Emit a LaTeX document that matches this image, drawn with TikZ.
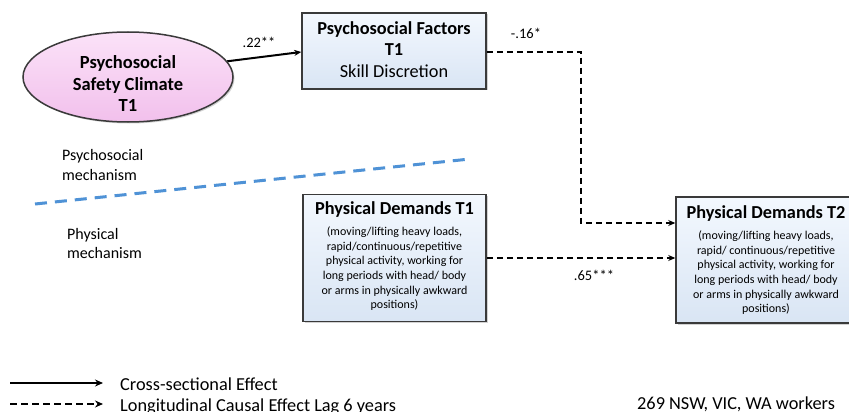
\documentclass[tikz,border=0pt]{standalone}
\usepackage{fontspec}
\setmainfont{Carlito}
\usetikzlibrary{shapes.geometric,shadows,arrows.meta}
\definecolor{bordc}{HTML}{3A3A3A}
\definecolor{boxtop}{HTML}{F3F8FE}
\definecolor{boxbot}{HTML}{D9E5F4}
\definecolor{pinktop}{HTML}{FBE2F8}
\definecolor{pinkbot}{HTML}{F2C0EC}
\definecolor{mechblue}{HTML}{4F92D6}
\tikzset{
  varbox/.style={draw=bordc, line width=1.5pt, top color=boxtop, bottom color=boxbot,
    drop shadow={shadow xshift=1.5pt, shadow yshift=-1.5pt, fill=gray!70}},
  latent/.style={ellipse, draw=bordc, line width=1.5pt, top color=pinktop, bottom color=pinkbot,
    drop shadow={shadow xshift=1.5pt, shadow yshift=-1.5pt, fill=gray!70},
    inner sep=0pt},
  boxtext/.style={inner sep=0pt, align=center, anchor=north},
  cross/.style={line width=2pt, -{Stealth[length=7pt,width=6pt]}},
  longit/.style={line width=2.4pt, dash pattern=on 6.5pt off 3.5pt, -{Stealth[length=7pt,width=6pt]}},
  lbl/.style={font=\fontsize{14.5}{16}\selectfont, inner sep=0pt},
  plain/.style={inner sep=0pt, align=left},
}
\begin{document}
\begin{tikzpicture}[x=1pt,y=-1pt]
\useasboundingbox (0,0) rectangle (849,412);
\clip (0,0) rectangle (849,412);
\fill[white] (0,0) rectangle (849,412);

% latent
\node[latent, minimum width=210pt, minimum height=90pt] (psc) at (128,77) {};
\node[inner sep=0pt, align=center, font=\fontsize{18.5}{21.5}\selectfont] (psct) at (128,84)
  {\bfseries Psychosocial\\\bfseries Safety Climate\\\bfseries T1};

% boxes
\node[varbox, minimum width=184pt, minimum height=76pt] (psf) at (394,51) {};
\node[boxtext, font=\fontsize{18.3}{21.5}\selectfont] (psft) at (394,21)
  {\bfseries Psychosocial Factors\\\bfseries T1\\Skill Discretion};

\node[varbox, minimum width=183pt, minimum height=127pt] (pd1) at (394.5,258) {};
\node[boxtext, font=\fontsize{12}{14.6}\selectfont] (pd1t) at (394.5,201)
  {{\fontsize{18.3}{22}\selectfont\bfseries Physical Demands T1}\\[7pt]
   (moving/lifting heavy loads,\\
   rapid/continuous/repetitive\\
   physical activity, working for\\
   long periods with head/ body\\
   or arms in physically awkward\\
   positions)};

\node[varbox, minimum width=184pt, minimum height=126pt] (pd2) at (768,260) {};
\node[boxtext, font=\fontsize{12}{14.6}\selectfont] (pd2t) at (766,205)
  {{\fontsize{18.3}{22}\selectfont\bfseries Physical Demands T2}\\[7pt]
   (moving/lifting heavy loads,\\
   rapid/ continuous/repetitive\\
   physical activity, working for\\
   long periods with head/ body\\
   or arms in physically awkward\\
   positions)};

% connectors
\draw[cross] (psc.9) -- (psf.west |- 0,52);
\node[lbl] (l22) at (259,42) {.22**};

\coordinate (bend1) at (581,52);
\coordinate (bend2) at (581,223);
\draw[longit] (psf.east |- 0,52) -- (bend1) -- (bend2) -- (pd2.west |- bend2);
\node[lbl] (l16) at (526,33) {-.16*};

\draw[longit] (pd1.east |- 0,258) -- (pd2.west |- 0,258);
\node[lbl] (l65) at (594,275) {.65***};

% mechanism divider
\coordinate (m1) at (35,204);
\coordinate (m2) at (470,159);
\draw[mechblue, line width=3pt, dash pattern=on 12pt off 8pt] (m1) -- (m2);
\node[plain, anchor=base west, font=\fontsize{16}{20}\selectfont] (psm) at (62,180) {Psychosocial\\mechanism};
\node[plain, anchor=base west, font=\fontsize{16}{19}\selectfont] (phm) at (67,258) {Physical\\mechanism};

% legend
\coordinate (l1a) at (10,383);
\coordinate (l1b) at (103,383);
\coordinate (l2a) at (10,404);
\coordinate (l2b) at (103,404);
\draw[line width=2pt, -{Stealth[length=8pt,width=7pt]}] (l1a) -- (l1b);
\draw[line width=2.4pt, dash pattern=on 7pt off 4pt, -{Stealth[length=8pt,width=7pt]}] (l2a) -- (l2b);
\node[plain, anchor=base west, font=\fontsize{18.3}{21}\selectfont] (lg1) at (120,390) {Cross-sectional Effect};
\node[plain, anchor=base west, font=\fontsize{18.3}{21}\selectfont] (lg2) at (120,411) {Longitudinal Causal Effect Lag 6 years};
\node[plain, anchor=base west, font=\fontsize{18.3}{21}\selectfont] (nws) at (637,409) {269 NSW, VIC, WA workers};
\end{tikzpicture}
\end{document}
